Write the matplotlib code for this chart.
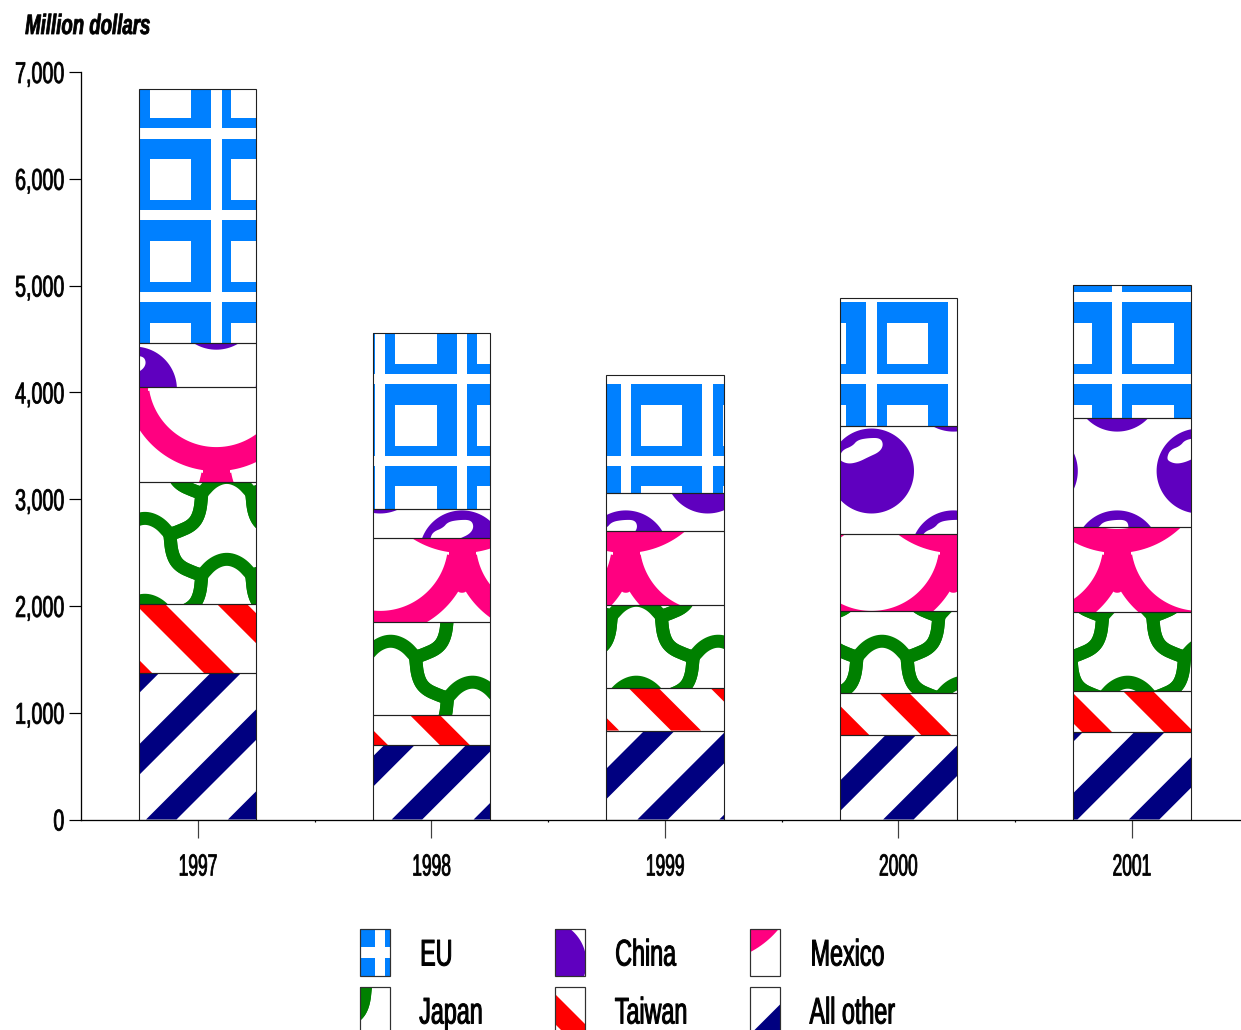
import numpy as np
import matplotlib
matplotlib.use("Agg")
import matplotlib.pyplot as plt
from matplotlib.collections import PolyCollection, LineCollection
from matplotlib.patches import Rectangle
from matplotlib.patheffects import AbstractPathEffect
from matplotlib.ticker import FixedLocator, FuncFormatter
from matplotlib.transforms import Affine2D, IdentityTransform

# Imports by source, million dollars
years = ["1997", "1998", "1999", "2000", "2001"]
all_other = [1371, 697, 833, 791, 815]
taiwan = [646, 281, 398, 389, 389]
japan = [1142, 871, 782, 777, 735]
mexico = [889, 786, 693, 716, 801]
china = [412, 276, 351, 1016, 1021]
eu = [2377, 1643, 1107, 1199, 1245]

series_names = ["All other", "Taiwan", "Japan", "Mexico", "China", "EU"]
series_values = [all_other, taiwan, japan, mexico, china, eu]
y_ticks = [0, 1000, 2000, 3000, 4000, 5000, 6000, 7000]

W, H, DPI = 1241, 1030, 100
PT = 72 / DPI
SANS = "Liberation Sans"

# Fill pattern geometry, laid out on one page-wide grid (pixels, y down)
STEP = 81.9
GRID_X, GRID_Y = 216.3, 133.3
COLORS = {"EU": "#0080FF", "China": "#5F00BF", "Mexico": "#FF0080",
          "Japan": "#008000", "Taiwan": "#FF0000", "All other": "#000080"}
HIGHLIGHT = [(-32, -14), (-29, -21), (-19, -25), (-14, -31), (-3, -33), (9, -33),
             (12, -26), (8, -19), (-3, -14), (-13, -9), (-23, -7), (-31, -10)]
NODE = [(-14, -10), (14, -10), (18, 8), (11, 21), (4, 29), (0, 30), (-4, 29), (-11, 21), (-18, 8)]
HUMP = [(-25, 17), (-14, 5), (0, 0), (14, 5), (25, 17)]
LINK_UP = [(25, 17), (32, 15), (48, 8), (55, -4), (57, -24)]
LINK_DOWN = [(25, 17), (27, 37), (34, 49), (50, 56), (57, 58)]
Y_LABEL_RIGHT = 63.5


class Condensed(AbstractPathEffect):
    """Squeeze a text line sideways and thicken its strokes.

    The line keeps its centre or left edge (anchor 0.5 or 0), or, with
    right_at, ends at that page x position.
    """

    def __init__(self, squeeze, anchor=0.5, stroke=0.8, right_at=None):
        super().__init__()
        self.squeeze, self.anchor, self.stroke = squeeze, anchor, stroke
        self.right_at = right_at

    def draw_path(self, renderer, gc, tpath, affine, rgbFace=None):
        ext = tpath.get_extents(affine)
        if self.right_at is None:
            pivot = ext.x0 + self.anchor * ext.width
            target = pivot
        else:
            pivot, target = ext.x1, self.right_at
        squeezed = affine + Affine2D().translate(-pivot, 0).scale(self.squeeze, 1).translate(target, 0)
        gc0 = renderer.new_gc()
        gc0.copy_properties(gc)
        gc0.set_foreground(rgbFace)
        gc0.set_linewidth(self.stroke * PT)
        renderer.draw_path(gc0, tpath, squeezed, rgbFace)
        gc0.restore()


def smooth(points, rounds=3, closed=False):
    """Chaikin corner cutting for the hand-shaped outlines."""
    p = np.asarray(points, float)
    for _ in range(rounds):
        if closed:
            q = np.roll(p, -1, axis=0)
            p = np.column_stack([0.75 * p + 0.25 * q, 0.25 * p + 0.75 * q]).reshape(-1, 2)
        else:
            a, b = p[:-1], p[1:]
            mid = np.column_stack([0.75 * a + 0.25 * b, 0.25 * a + 0.75 * b]).reshape(-1, 2)
            p = np.vstack([p[0], mid, p[-1]])
    return p


def grid_range(lo, hi, origin, margin):
    first = int(np.floor((lo - margin - origin) / STEP))
    last = int(np.ceil((hi + margin - origin) / STEP))
    return range(first, last + 1)


def stripes(x0, y0, x1, y1, edge_at, width):
    polys = []
    for k in range(-30, 30):
        a, b = edge_at(y0) + k * STEP, edge_at(y1) + k * STEP
        if max(a, b) + width >= x0 and min(a, b) <= x1:
            polys.append([(a, y0), (a + width, y0), (b + width, y1), (b, y1)])
    return polys


def pattern_layers(name, box):
    """Return drawing layers (kind, colour, shapes, width in px) for a box in page pixels."""
    x0, y0, x1, y1 = box
    c = COLORS[name]
    if name == "EU":
        blue, holes = [], []
        for i in grid_range(x0, x1, GRID_X, 90):
            for j in grid_range(y0, y1, GRID_Y, 90):
                vx, hy = GRID_X + i * STEP, GRID_Y + j * STEP
                l, r, t, b = vx + 5.2, vx + STEP - 5.2, hy + 5.2, hy + STEP - 5.2
                blue.append([(l, t), (r, t), (r, b), (l, b)])
                cx, cy = vx + 35.8, hy + 46.2
                holes.append([(cx - 20.7, cy - 20.7), (cx + 20.7, cy - 20.7),
                              (cx + 20.7, cy + 20.7), (cx - 20.7, cy + 20.7)])
        return [("fill", c, blue, 0), ("fill", "white", holes, 0)]
    if name == "China":
        t = np.linspace(0, 2 * np.pi, 120, endpoint=False)
        ring = np.column_stack([42.5 * np.cos(t), 42.5 * np.sin(t)])
        blob = smooth(HIGHLIGHT, closed=True)
        balls, lights = [], []
        for i in grid_range(x0, x1, GRID_X, 60):
            for j in grid_range(y0, y1, 471, 60):
                if (i + j) % 2 == 0:
                    centre = np.array([GRID_X + i * STEP, 471 + j * STEP])
                    balls.append(ring + centre)
                    lights.append(blob + centre)
        return [("fill", c, balls, 0), ("fill", "white", lights, 0)]
    if name == "Mexico":
        t = np.radians(np.linspace(10, 170, 80))
        arc = np.column_stack([80 * np.cos(t), 80 * np.sin(t)])
        node = smooth(NODE, rounds=2, closed=True)
        arcs, stems, nodes = [], [], []
        for i in grid_range(x0, x1, GRID_X, 120):
            for j in grid_range(y0, y1, 461, 160):
                if (i + j) % 2 == 1:
                    centre = np.array([GRID_X + i * STEP, 461 + j * STEP])
                    arcs.append(arc + centre)
                    stems.append(np.array([(0, 88), (0, 104)]) + centre)
                    nodes.append(node + centre + (0, 102))
        return [("stroke", c, arcs, 24), ("stroke", c, stems, 27), ("fill", c, nodes, 0)]
    if name == "Japan":
        parts = [smooth(HUMP), smooth(LINK_UP), smooth(LINK_DOWN)]
        parts += [part * (-1, 1) for part in parts[1:]]
        lines = []
        for i in grid_range(x0, x1, 882, 120):
            for j in range(-20, 20):
                corner = np.array([882 + i * STEP, 640 + (i * 0.5 + j) * STEP])
                if y0 - 100 <= corner[1] <= y1 + 100:
                    lines.extend(part + corner for part in parts)
        return [("stroke", c, lines, 13)]
    if name == "Taiwan":
        return [("fill", c, stripes(x0, y0, x1, y1, lambda y: 136 + (y - 605), 30), 0)]
    return [("fill", c, stripes(x0, y0, x1, y1, lambda y: 146 + (819.5 - y), 30.5), 0)]


def to_display(shape):
    arr = np.array(shape, float)
    arr[:, 1] = H - arr[:, 1]
    return arr


def add_pattern(name, clip_rect, box, container, zorder=2):
    for kind, color, shapes, width in pattern_layers(name, box):
        shapes = [to_display(s) for s in shapes]
        if kind == "fill":
            art = PolyCollection(shapes, facecolors=color, edgecolors="none",
                                 transform=IdentityTransform(), zorder=zorder)
        else:
            art = LineCollection(shapes, colors=color, linewidths=width * PT,
                                 capstyle="round" if name == "Japan" else "butt",
                                 joinstyle="round",
                                 transform=IdentityTransform(), zorder=zorder)
        if container is ax:
            ax.add_collection(art, autolim=False)
        else:
            fig.add_artist(art)
        art.set_clip_path(clip_rect)


fig = plt.figure(figsize=(W / DPI, H / DPI), dpi=DPI, facecolor="white")
ax = fig.add_axes([81 / W, (H - 819.5) / H, (1248.8 - 81) / W, (819.5 - 72) / H])
ax.set_xlim(-0.5, 4.5)
ax.set_ylim(0, 7000)

BAR_WIDTH = 0.502
xpos = np.arange(len(years))
bottoms = np.zeros(len(years))
fig.canvas.draw()
for name, values in zip(series_names, series_values):
    bars = ax.bar(xpos, values, width=BAR_WIDTH, bottom=bottoms, color="white",
                  edgecolor="none", zorder=1, label=name)
    for rect in bars:
        ext = rect.get_window_extent()
        box = (ext.x0, H - ext.y1, ext.x1, H - ext.y0)
        add_pattern(name, rect, box, ax)
    ax.bar(xpos, values, width=BAR_WIDTH, bottom=bottoms, fill=False,
           edgecolor="#202020", linewidth=1.1 * PT, zorder=3)
    bottoms = bottoms + np.array(values)

for side in ("top", "right"):
    ax.spines[side].set_visible(False)
for side in ("left", "bottom"):
    ax.spines[side].set_linewidth(1.3 * PT)
    ax.spines[side].set_zorder(4)

ax.set_xticks(xpos)
ax.set_xticklabels(years, family=SANS, fontsize=30.5 * PT)
for label in ax.get_xticklabels():
    label.set_path_effects([Condensed(0.57, anchor=0.5)])
ax.xaxis.set_minor_locator(FixedLocator(xpos[:-1] + 0.5))
ax.tick_params(axis="x", which="major", length=18 * PT, width=1.2 * PT, color="#404040", pad=16 * PT)
ax.tick_params(axis="x", which="minor", length=2.5 * PT, width=1.2 * PT)
ax.set_yticks(y_ticks)
ax.yaxis.set_major_formatter(FuncFormatter(lambda v, _: f"{int(v):,}"))
ax.tick_params(axis="y", length=12 * PT, width=1.2 * PT, pad=30 * PT)
fig.canvas.draw()
for label in ax.get_yticklabels():
    label.set_family(SANS)
    label.set_fontsize(30 * PT)
    label.set_horizontalalignment("center")
    label.set_path_effects([Condensed(0.655, right_at=Y_LABEL_RIGHT)])

fig.text(25 / W, 1 - 27 / H, "Million dollars", family=SANS, style="italic",
         weight="bold", fontsize=28 * PT, ha="left", va="center",
         path_effects=[Condensed(0.665, anchor=0.0, stroke=0.8)])

# Key: three columns, two rows, the second running off the page
key_rows = [("EU", "China", "Mexico"), ("Japan", "Taiwan", "All other")]
column_x = [359.5, 555, 750]
row_y = [928.5, 986.5]
for r, row in enumerate(key_rows):
    for c, name in enumerate(row):
        x, y = column_x[c], row_y[r]
        w, h = 30, 47
        base = Rectangle((x, H - y - h), w, h, facecolor="white", edgecolor="none",
                         transform=IdentityTransform(), zorder=1)
        fig.add_artist(base)
        add_pattern(name, base, (x, y, x + w, y + h), fig)
        fig.add_artist(Rectangle((x, H - y - h), w, h, fill=False, edgecolor="#303030",
                                 linewidth=1.2 * PT, transform=IdentityTransform(), zorder=3))
        fig.text((x + 59.5) / W, 1 - (y + 27.5) / H, name, family=SANS,
                 fontsize=37 * PT, ha="left", va="center",
                 path_effects=[Condensed(0.63, anchor=0.0, stroke=1.0)])

fig.savefig("out.png", dpi=DPI, facecolor="white")
